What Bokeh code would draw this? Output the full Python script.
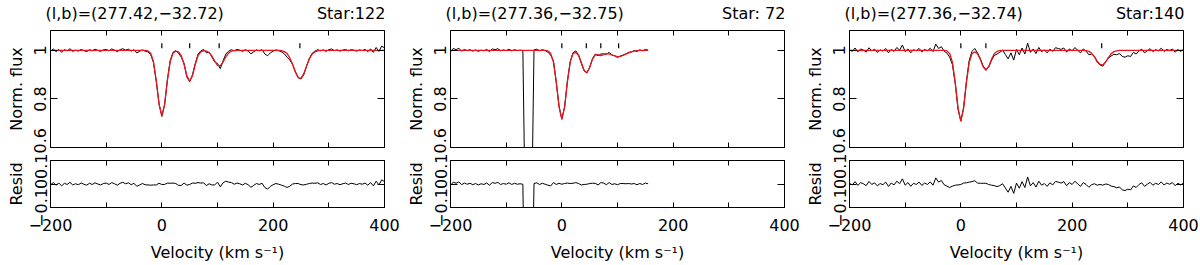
import math
import numpy as np
from bokeh.plotting import figure
from bokeh.layouts import row, column
from bokeh.models import (LinearAxis, FixedTicker, CustomJSTickFormatter, Range1d,
                          CustomLabelingPolicy)
from bokeh.embed import file_html
from bokeh.resources import INLINE

# ---------------- data ----------------
vel_full = list(range(-200, 405, 5))     # sampling grid, stars 122 and 140
vel_short = list(range(-200, 160, 5))    # sampling grid, star 72

flux_122 = [
    0.996, 1.006, 0.995, 1.004, 0.992, 1.003, 0.998, 1.007, 0.996, 1.001,
    0.997, 1.004, 0.999, 0.995, 1.003, 0.998, 1.005, 1.000, 0.996, 1.002,
    1.004, 0.998, 1.006, 1.001, 0.995, 1.003, 1.007, 1.001, 1.005, 0.997,
    1.003, 0.990, 0.996, 1.002, 0.997, 0.994, 0.983, 0.950, 0.872, 0.781,
    0.728, 0.776, 0.880, 0.957, 0.992, 0.999, 0.988, 0.972, 0.946, 0.890,
    0.871, 0.899, 0.945, 0.984, 0.998, 1.004, 0.990, 0.992, 0.973, 0.952,
    0.946, 0.925, 0.957, 0.985, 0.997, 1.003, 0.998, 1.004, 1.001, 0.996,
    1.003, 0.997, 0.986, 0.994, 1.002, 0.998, 1.003, 0.985, 0.978, 0.990,
    0.997, 1.002, 0.999, 0.994, 0.986, 0.972, 0.960, 0.942, 0.912, 0.889,
    0.882, 0.900, 0.935, 0.967, 0.988, 0.997, 1.003, 0.998, 1.002, 0.996,
    1.003, 1.006, 0.999, 1.002, 0.997, 1.001, 1.004, 0.998, 1.003, 1.001,
    0.997, 1.002, 0.999, 1.004, 0.995, 1.006, 0.992, 1.012, 0.996, 1.018,
    1.010]
fit_122 = ([1.0] * 35 +
           [0.998, 0.988, 0.954, 0.876, 0.778, 0.730, 0.778, 0.876, 0.954, 0.988,
            0.997, 0.994, 0.978, 0.942, 0.895, 0.873, 0.895, 0.942, 0.978, 0.994,
            0.999, 0.997, 0.991, 0.977, 0.956, 0.938, 0.937, 0.952, 0.973, 0.989,
            0.997, 0.999] +
           [1.0] * 16 +
           [0.999, 0.995, 0.987, 0.969, 0.942, 0.910, 0.887, 0.885, 0.904, 0.936,
            0.965, 0.984, 0.994, 0.998] +
           [1.0] * 24)
comps_122 = [0, 50, 103, 248]

flux_72 = [
    0.994, 1.008, 1.003, 1.009, 0.997, 1.004, 0.999, 1.003, 0.997, 1.002,
    0.996, 1.001, 0.998, 1.004, 0.995, 1.006, 1.003, 1.007, 0.998, 1.002,
    0.999, 1.005, 0.998, 1.003, 0.999, 1.001, 0.999, 0.200, 0.150, 0.200,
    1.002, 1.005, 0.998, 1.003, 0.999, 0.993, 0.980, 0.957, 0.868, 0.770,
    0.716, 0.768, 0.874, 0.953, 0.990, 0.998, 0.982, 0.946, 0.916, 0.907,
    0.931, 0.966, 0.985, 0.978, 0.985, 0.986, 0.984, 0.992, 0.980, 0.978,
    0.971, 0.977, 0.981, 0.986, 0.992, 0.994, 0.999, 0.996, 1.002, 0.998,
    1.004, 1.001]
fit_72 = ([1.0] * 35 +
          [0.998, 0.988, 0.951, 0.870, 0.767, 0.717, 0.766, 0.870, 0.951, 0.987,
           0.992, 0.980, 0.950, 0.918, 0.908, 0.929, 0.963, 0.982, 0.982, 0.979,
           0.982, 0.987, 0.986, 0.982, 0.977, 0.974, 0.975, 0.979, 0.985, 0.990,
           0.994, 0.997, 0.999] +
          [1.0] * 4)
comps_72 = [0, 44, 70, 102]

flux_140 = [
    1.003, 0.996, 1.010, 0.994, 1.006, 1.001, 0.993, 1.011, 0.998, 1.005,
    0.992, 1.002, 0.997, 1.008, 0.990, 1.004, 0.996, 1.012, 1.001, 1.022,
    0.995, 1.006, 0.990, 1.003, 0.998, 1.008, 0.994, 1.004, 0.998, 1.009,
    0.995, 1.026, 1.008, 1.015, 0.997, 0.989, 0.972, 0.941, 0.862, 0.757,
    0.708, 0.765, 0.872, 0.958, 0.996, 1.008, 0.990, 0.966, 0.936, 0.921,
    0.931, 0.958, 0.979, 0.985, 0.992, 1.001, 0.983, 0.965, 0.990, 0.960,
    1.004, 0.982, 1.010, 0.985, 1.030, 0.992, 1.006, 0.987, 1.012, 0.995,
    1.002, 0.990, 1.005, 0.996, 1.011, 1.008, 1.004, 1.010, 0.993, 1.006,
    0.998, 1.012, 1.000, 0.990, 1.006, 0.997, 0.982, 0.985, 0.975, 0.951,
    0.940, 0.935, 0.952, 0.968, 0.977, 0.984, 0.982, 0.987, 0.975, 0.972,
    0.978, 0.975, 0.992, 0.985, 0.998, 1.005, 0.990, 0.999, 1.007, 0.995,
    1.003, 0.998, 1.009, 0.996, 1.004, 0.999, 1.006, 0.993, 1.003, 0.996,
    1.004]
fit_140 = ([1.0] * 35 +
           [0.998, 0.987, 0.950, 0.867, 0.761, 0.710, 0.761, 0.867, 0.950, 0.986,
            0.994, 0.986, 0.963, 0.933, 0.918, 0.933, 0.963, 0.986, 0.996, 0.999] +
           [1.0] * 30 +
           [0.999, 0.996, 0.988, 0.974, 0.956, 0.942, 0.940, 0.952, 0.970, 0.986,
            0.995, 0.998] +
           [1.0] * 24)
comps_140 = [0, 45, 253]

titles_left = ["(l,b)=(277.42,\u221232.72)", "(l,b)=(277.36,\u221232.75)", "(l,b)=(277.36,\u221232.74)"]
titles_right = ["Star:122", "Star: 72", "Star:140"]

x_ticks = [-200, -100, 0, 100, 200, 300, 400]
flux_ticks = [0.6, 0.8, 1.0]
resid_ticks = [-0.1, 0.0, 0.1]

# ---------------- styling ----------------
FONT = "DejaVu Sans"
FS_PX = 16
FS = "%dpx" % FS_PX
XMIN, XMAX = -200, 400
YMIN, YMAX = 0.6, 1.082
RMIN, RMAX = -0.1, 0.1
FRAME_W = 334
PX_PER_KMS = FRAME_W / (XMAX - XMIN)
MARK_LO, MARK_HI = 1.009, 1.029
RED = "#e8141c"

# DejaVu Sans advance widths (em) used to place the two header texts
ADV = {"(": 0.390, ")": 0.390, "l": 0.278, ",": 0.318, "b": 0.635, "=": 0.838,
       ".": 0.318, "\u2212": 0.838, "S": 0.635, "t": 0.392, "a": 0.613,
       "r": 0.411, ":": 0.337, " ": 0.318}


def text_px(s):
    return sum(ADV.get(ch, 0.636) for ch in s) * FS_PX


XFMT_CODE = """
var t = Math.round(tick);
return (t % 200 === 0) ? String(t).replace('-', '\\u2212') : '';
"""
YFMT_CODE = """
var v = Math.round(tick * 10) / 10;
return String(v).replace('-', '\\u2212');
"""
NO_LABELS = """
for (const i of indices) {
    indices.unset(i)
}
return indices
"""
HEAD_CODE = """
var best = 0, bd = 1e9;
for (var i = 0; i < pos.length; i++) {
    var d = Math.abs(pos[i] - tick);
    if (d < bd) { bd = d; best = i; }
}
return txt[best];
"""


def base_style(p):
    p.xgrid.visible = False
    p.ygrid.visible = False
    p.outline_line_color = "black"
    p.outline_line_width = 1
    p.outline_line_alpha = 1.0
    p.background_fill_color = "white"
    p.border_fill_color = "white"
    p.add_layout(LinearAxis(), "above")
    p.add_layout(LinearAxis(), "right")
    for ax in list(p.xaxis) + list(p.yaxis):
        style_common(ax)
    for ax in p.xaxis:
        ax.ticker = FixedTicker(ticks=x_ticks)
        ax.major_tick_in = 5
    for ax in p.yaxis:
        ax.major_tick_in = 7


def style_common(ax):
    ax.axis_line_color = None
    ax.major_tick_out = 0
    ax.minor_tick_in = 0
    ax.minor_tick_out = 0
    ax.major_tick_line_color = "black"
    ax.major_tick_line_width = 1
    ax.major_label_text_font = FONT
    ax.major_label_text_font_size = FS
    ax.major_label_text_color = "black"
    ax.axis_label_text_font = FONT
    ax.axis_label_text_font_size = FS
    ax.axis_label_text_font_style = "normal"
    ax.axis_label_text_color = "black"


def hide_labels(ax):
    ax.major_label_text_font_size = "0px"
    ax.major_label_standoff = 0
    ax.major_label_policy = CustomLabelingPolicy(code=NO_LABELS)
    ax.axis_label = None


def style_left(ax, label):
    ax.formatter = CustomJSTickFormatter(code=YFMT_CODE)
    ax.major_label_orientation = "vertical"
    ax.major_label_standoff = 4
    ax.axis_label = label
    ax.axis_label_standoff = 6


def make_column(vel, flux, fit, comps, tleft, tright, lb, width):
    rb = width - lb - FRAME_W
    xr = Range1d(XMIN, XMAX)
    top = figure(width=width, height=153, x_range=xr, y_range=Range1d(YMIN, YMAX),
                 output_backend="svg", toolbar_location=None,
                 min_border_left=lb, min_border_right=rb,
                 min_border_top=29, min_border_bottom=6)
    base_style(top)
    for ax in top.yaxis:
        ax.ticker = FixedTicker(ticks=flux_ticks)
    for ax in top.xaxis:
        hide_labels(ax)
    hide_labels(top.right[0])
    style_left(top.left[0], "Norm. flux")

    # header texts: (l,b) on the left, star number flush right, on one line above the frame
    left_c = XMIN + (-5 + text_px(tleft) / 2) / PX_PER_KMS
    right_c = XMAX + (1 - text_px(tright) / 2) / PX_PER_KMS
    head_ax = LinearAxis()
    style_common(head_ax)
    head_ax.ticker = FixedTicker(ticks=[left_c, right_c])
    head_ax.major_tick_in = 0
    head_ax.major_tick_line_color = None
    head_ax.major_label_standoff = 8
    head_ax.formatter = CustomJSTickFormatter(args=dict(pos=[left_c, right_c], txt=[tleft, tright]),
                                              code=HEAD_CODE)
    top.add_layout(head_ax, "above")

    top.line(vel, flux, color="black", line_width=1)
    top.line(vel, fit, color=RED, line_width=1.3)
    top.segment(x0=comps, y0=MARK_LO, x1=comps, y1=MARK_HI, color="black", line_width=1.2)

    resid = (np.array(flux) - np.array(fit)).tolist()
    bot = figure(width=width, height=112, x_range=xr, y_range=Range1d(RMIN, RMAX),
                 output_backend="svg", toolbar_location=None,
                 min_border_left=lb, min_border_right=rb,
                 min_border_top=7, min_border_bottom=58)
    base_style(bot)
    for ax in bot.yaxis:
        ax.ticker = FixedTicker(ticks=resid_ticks)
    hide_labels(bot.above[0])
    hide_labels(bot.right[0])
    style_left(bot.left[0], "Resid")
    bx = bot.below[0]
    bx.formatter = CustomJSTickFormatter(code=XFMT_CODE)
    bx.major_label_standoff = 11
    bx.axis_label = "Velocity (km s\u207b\u00b9)"
    bx.axis_label_standoff = 9
    bot.line(vel, resid, color="black", line_width=1)
    return column(top, bot, spacing=0)


c1 = make_column(vel_full, flux_122, fit_122, comps_122, titles_left[0], titles_right[0], 50, 400)
c2 = make_column(vel_short, flux_72, fit_72, comps_72, titles_left[1], titles_right[1], 50, 400)
c3 = make_column(vel_full, flux_140, fit_140, comps_140, titles_left[2], titles_right[2], 49, 400)

layout = row(c1, c2, c3, spacing=0)

with open("out.html", "w", encoding="utf-8") as f:
    f.write(file_html(layout, INLINE))
